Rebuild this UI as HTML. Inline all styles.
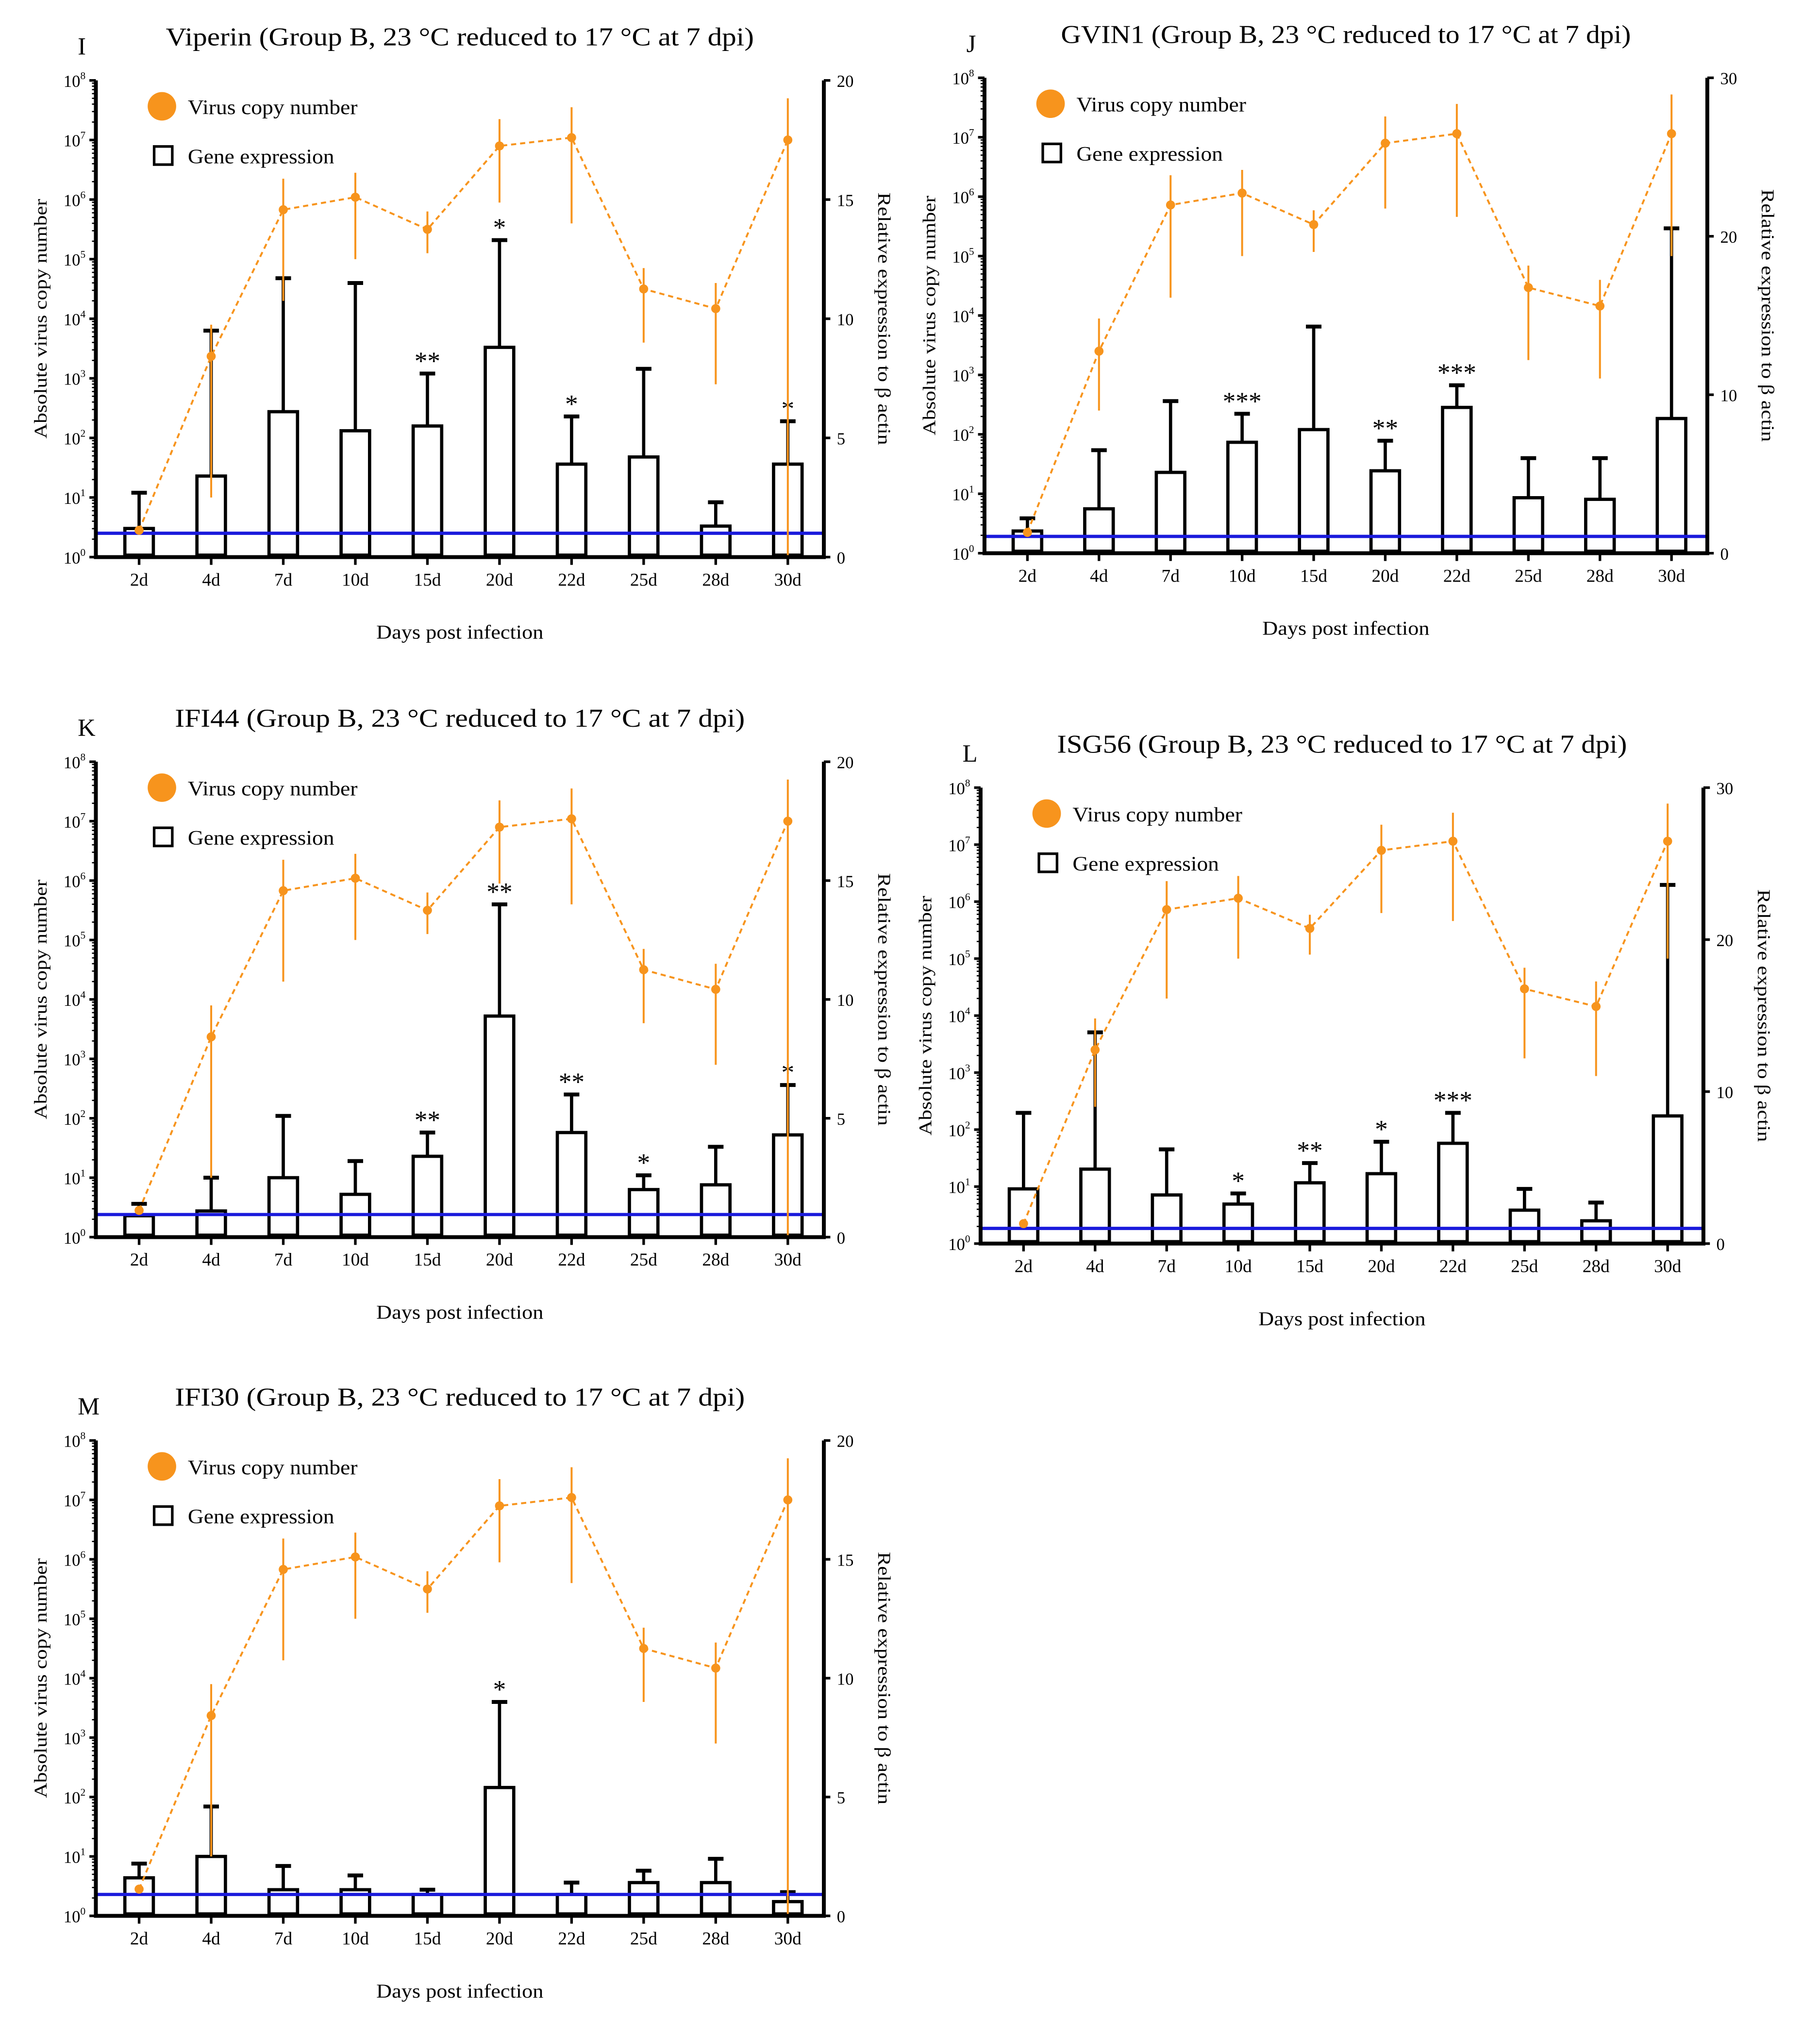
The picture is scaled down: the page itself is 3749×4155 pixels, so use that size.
<!DOCTYPE html>
<html><head><meta charset="utf-8">
<style>
html,body{margin:0;padding:0;background:#fff;}
svg{display:block;}
text{font-family:"Liberation Serif",serif;fill:#000;}
</style></head>
<body>
<svg id="fig" width="3749" height="4155" viewBox="0 0 1405 1557" xmlns="http://www.w3.org/2000/svg"></svg>
<script>
const days = ["2d","4d","7d","10d","15d","20d","22d","25d","28d","30d"];
// virus copy number (log10), dataset A (panels I, K, M)
const virusA = [0.45,3.37,5.83,6.04,5.5,6.9,7.04,4.5,4.17,7.0];
const virusAHi = [0.45,3.9,6.35,6.45,5.8,7.35,7.55,4.85,4.6,7.7];
const virusALo = [0.45,1.0,4.3,5.0,5.1,5.95,5.6,3.6,2.9,0.0];
// virus copy number (log10), dataset B (panels J, L)
const virusB = [0.35,3.4,5.86,6.06,5.53,6.9,7.06,4.47,4.16,7.06];
const virusBHi = [0.35,3.95,6.36,6.45,5.77,7.35,7.56,4.84,4.6,7.72];
const virusBLo = [0.35,2.4,4.3,5.0,5.07,5.8,5.66,3.25,2.94,5.0];
// gene expression (relative to beta actin)
const exprI = [1.2,3.4,6.1,5.3,5.5,8.8,3.9,4.2,1.3,3.9];
const errI = [2.7,9.5,11.7,11.5,7.7,13.3,5.9,7.9,2.3,5.7];
const starsI = ["","","","","**","*","*","","","*"];
const exprJ = [1.4,2.8,5.1,7.0,7.8,5.2,9.2,3.5,3.4,8.5];
const errJ = [2.2,6.5,9.6,8.8,14.3,7.1,10.6,6.0,6.0,20.5];
const starsJ = ["","","","***","","**","***","","",""];
const exprK = [0.9,1.1,2.5,1.8,3.4,9.3,4.4,2.0,2.2,4.3];
const errK = [1.4,2.5,5.1,3.2,4.4,14.0,6.0,2.6,3.8,6.4];
const starsK = ["","","","","**","**","**","*","","*"];
const exprL = [3.6,4.9,3.2,2.6,4.0,4.6,6.6,2.2,1.5,8.4];
const errL = [8.6,13.9,6.2,3.3,5.3,6.7,8.6,3.6,2.7,23.6];
const starsL = ["","","","*","**","*","***","","",""];
const exprM = [1.6,2.5,1.1,1.1,0.9,5.4,0.9,1.4,1.4,0.6];
const errM = [2.2,4.6,2.1,1.7,1.1,9.0,1.4,1.9,2.4,1.0];
const starsM = ["","","","","","*","","","",""];

const NS="http://www.w3.org/2000/svg";
const svg=document.getElementById('fig');
function mk(tag,attrs,parent){const e=document.createElementNS(NS,tag);for(const k in attrs)e.setAttribute(k,attrs[k]);(parent||svg).appendChild(e);return e;}

const panels=[
 {id:"I",gene:"Viperin",x0:74,x1:636,y0:62,y1:430,rmax:20,base:1,v:virusA,vh:virusAHi,vl:virusALo,e:exprI,er:errI,s:starsI},
 {id:"J",gene:"GVIN1",x0:760,x1:1318,y0:60,y1:427,rmax:30,base:1.06,v:virusB,vh:virusBHi,vl:virusBLo,e:exprJ,er:errJ,s:starsJ},
 {id:"K",gene:"IFI44",x0:74,x1:636,y0:588,y1:955,rmax:20,base:0.95,v:virusA,vh:virusAHi,vl:virusALo,e:exprK,er:errK,s:starsK},
 {id:"L",gene:"ISG56",x0:757,x1:1315,y0:608,y1:960,rmax:30,base:1.0,v:virusB,vh:virusBHi,vl:virusBLo,e:exprL,er:errL,s:starsL},
 {id:"M",gene:"IFI30",x0:74,x1:636,y0:1112,y1:1479,rmax:20,base:0.9,v:virusA,vh:virusAHi,vl:virusALo,e:exprM,er:errM,s:starsM}
];

panels.forEach(p=>{
 const g=mk('g',{});
 
 
 const W=p.x1-p.x0, H=p.y1-p.y0;
 const step=W/10.1;
 const xc=i=>p.x0+step*(0.6+i);
 const yl=v=>p.y1-v/8*H;
 const yr=v=>p.y1-v/p.rmax*H;
 let t=mk('text',{x:p.x0-14,y:p.y0-20,'font-size':19},g);t.textContent=p.id;
 
 t=mk('text',{x:(p.x0+p.x1)/2,y:p.y0-27,'font-size':20,'text-anchor':'middle'},g);
 t.textContent=p.gene+" (Group B, 23 °C reduced to 17 °C at 7 dpi)";
 t.setAttribute('textLength', p.gene.length>6?454:440);
 t.setAttribute('lengthAdjust','spacingAndGlyphs');
 
 p.e.forEach((val,i)=>{
  const bw=22,x=xc(i);
  const er=mk('line',{x1:x,x2:x,y1:yr(val),y2:yr(p.er[i]),stroke:'#000','stroke-width':2.5},g);
  
  const cap=mk('line',{x1:x-6,x2:x+6,y1:yr(p.er[i]),y2:yr(p.er[i]),stroke:'#000','stroke-width':3},g);
  
  const b=mk('rect',{x:x-bw/2,y:yr(val),width:bw,height:p.y1-yr(val)-1.5,fill:'#fff',stroke:'#000','stroke-width':2.5},g);
  
  if(p.s[i]){const st=mk('text',{x:x,y:yr(p.er[i])-3,'font-size':20,'text-anchor':'middle','font-family':'Liberation Sans'},g);st.textContent=p.s[i];
   }
 });
 const bl=mk('line',{x1:p.x0,x2:p.x1,y1:yr(p.base),y2:yr(p.base),stroke:'#1a1adc','stroke-width':2.5},g);
 
 const pts=p.v.map((v,i)=>xc(i)+','+yl(v)).join(' ');
 const pl=mk('polyline',{points:pts,fill:'none',stroke:'#f7941d','stroke-width':1.5,'stroke-dasharray':'4,3'},g);
 
 p.v.forEach((v,i)=>{
  const l=mk('line',{x1:xc(i),x2:xc(i),y1:yl(p.vh[i]),y2:yl(p.vl[i]),stroke:'#f7941d','stroke-width':1.5},g);
  
  const c=mk('circle',{cx:xc(i),cy:yl(v),r:3.5,fill:'#f7941d'},g);
  
 });
 const ax=mk('path',{d:`M${p.x0},${p.y0}V${p.y1}H${p.x1}V${p.y0}`,fill:'none',stroke:'#000','stroke-width':3},g);
 
 for(let k=0;k<=8;k++){
  const y=yl(k);
  mk('line',{x1:p.x0-5,x2:p.x0,y1:y,y2:y,stroke:'#000','stroke-width':2},g);
  if(k<8)for(let m=2;m<10;m++){const ym=yl(k+Math.log10(m));mk('line',{x1:p.x0-3,x2:p.x0,y1:ym,y2:ym,stroke:'#000','stroke-width':1},g);}
  const tl=mk('text',{x:p.x0-8,y:y+5,'font-size':13,'text-anchor':'end'},g);
  
  tl.innerHTML='10<tspan dy="-6" font-size="8">'+k+'</tspan>';
 }
 const rstep=p.rmax===20?5:10;
 for(let v=0;v<=p.rmax;v+=rstep){
  const y=yr(v);
  mk('line',{x1:p.x1,x2:p.x1+5,y1:y,y2:y,stroke:'#000','stroke-width':2},g);
  const tl=mk('text',{x:p.x1+10,y:y+5,'font-size':13},g);tl.textContent=v;
  
 }
 days.forEach((d,i)=>{
  mk('line',{x1:xc(i),x2:xc(i),y1:p.y1,y2:p.y1+6,stroke:'#000','stroke-width':2},g);
  const tl=mk('text',{x:xc(i),y:p.y1+22,'font-size':14,'text-anchor':'middle'},g);tl.textContent=d;
  
 });
 t=mk('text',{x:(p.x0+p.x1)/2,y:p.y1+63,'font-size':15,'text-anchor':'middle',textLength:129,lengthAdjust:'spacingAndGlyphs'},g);t.textContent="Days post infection";
 
 const my=(p.y0+p.y1)/2;
 t=mk('text',{x:0,y:0,'font-size':14,'text-anchor':'middle',textLength:185,lengthAdjust:'spacingAndGlyphs',transform:`translate(${p.x0-38},${my}) rotate(-90)`},g);t.textContent="Absolute virus copy number";
 
 t=mk('text',{x:0,y:0,'font-size':14,'text-anchor':'middle',textLength:195,lengthAdjust:'spacingAndGlyphs',transform:`translate(${p.x1+42},${my}) rotate(90)`},g);t.textContent="Relative expression to β actin";
 
 const lc=mk('circle',{cx:p.x0+51,cy:p.y0+20,r:11,fill:'#f7941d'},g);
 
 t=mk('text',{x:p.x0+71,y:p.y0+26,'font-size':16,textLength:131,lengthAdjust:'spacingAndGlyphs'},g);t.textContent="Virus copy number";
 
 const lr=mk('rect',{x:p.x0+45,y:p.y0+51,width:14,height:14,fill:'#fff',stroke:'#000','stroke-width':2},g);
 
 t=mk('text',{x:p.x0+71,y:p.y0+64,'font-size':16,textLength:113,lengthAdjust:'spacingAndGlyphs'},g);t.textContent="Gene expression";
 
});
</script>
</body></html>
